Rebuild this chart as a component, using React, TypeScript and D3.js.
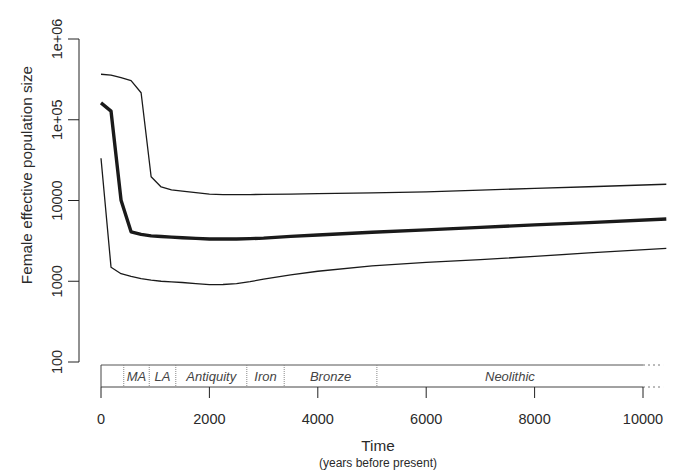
import React from "react";
import * as d3 from "d3";

// years before present
const years = [0, 185, 370, 555, 740, 925, 1110, 1300, 1500, 1750, 2000, 2250, 2500, 2750, 3000, 3500, 4000, 5000, 6000, 7000, 8000, 9000, 10430];
const median = [162000, 128000, 10100, 4100, 3800, 3650, 3580, 3520, 3460, 3400, 3340, 3330, 3330, 3370, 3420, 3600, 3740, 4050, 4330, 4650, 4990, 5320, 5900];
const upper = [366000, 358000, 333000, 305000, 216000, 19700, 14700, 13500, 13100, 12500, 12000, 11850, 11800, 11850, 11900, 12000, 12200, 12450, 12800, 13450, 14100, 14800, 15900];
const lower = [33300, 1490, 1240, 1150, 1080, 1030, 1000, 985, 965, 935, 910, 912, 935, 990, 1060, 1200, 1330, 1550, 1710, 1850, 2030, 2240, 2560];

const xTicks = [0, 2000, 4000, 6000, 8000, 10000];
const yTicks = [100, 1000, 10000, 100000, 1000000];
const yTickLabels = ["100", "1000", "10000", "1e+05", "1e+06"];

const epochBounds = [0, 420, 890, 1380, 2690, 3380, 5090, 10000];
const epochNames = ["", "MA", "LA", "Antiquity", "Iron", "Bronze", "Neolithic"];

const W = 681;
const H = 471;

const App = () => {
  const x = d3.scaleLinear().domain([0, 10000]).range([101, 643]);
  const y = d3.scaleLog().domain([100, 1000000]).range([362, 39]);

  const line = d3
    .line<number>()
    .x((d, i) => x(years[i]))
    .y((d) => y(d));

  const font = "'Liberation Sans', Arial, Helvetica, sans-serif";
  const boxTop = 365;
  const boxBottom = 387;
  const xEnd = x(10370);

  return (
    <svg
      width={W}
      height={H}
      style={{ position: "absolute", left: 0, top: 0, background: "#fff" }}
      fontFamily={font}
    >
      {/* y axis */}
      <line x1={79} x2={79} y1={y(1000000)} y2={y(100)} stroke="#222" strokeWidth={1} />
      {yTicks.map((t, i) => (
        <g key={t}>
          <line x1={68} x2={79} y1={y(t)} y2={y(t)} stroke="#222" />
          <text
            transform={`translate(62,${y(t)}) rotate(-90)`}
            textAnchor="middle"
            fontSize={14.5}
            fill="#2a2a2a"
          >
            {yTickLabels[i]}
          </text>
        </g>
      ))}
      <text
        transform="translate(32,175) rotate(-90)"
        textAnchor="middle"
        fontSize={15.3}
        fill="#2a2a2a"
      >
        Female effective population size
      </text>

      {/* epoch band */}
      <line x1={x(0)} x2={x(10000)} y1={boxTop} y2={boxTop} stroke="#555" />
      <line x1={x(10000)} x2={xEnd} y1={boxTop} y2={boxTop} stroke="#777" strokeDasharray="2,3" />
      <line x1={x(0)} x2={x(0)} y1={boxTop} y2={boxBottom} stroke="#444" />
      {epochBounds.slice(1, -1).map((b) => (
        <line
          key={b}
          x1={x(b)}
          x2={x(b)}
          y1={boxTop}
          y2={boxBottom}
          stroke="#888"
          strokeDasharray="1,1"
        />
      ))}
      {epochNames.map((n, i) =>
        n ? (
          <text
            key={n}
            x={(x(epochBounds[i]) + x(epochBounds[i + 1])) / 2}
            y={boxTop + 16}
            textAnchor="middle"
            fontSize={13}
            fontStyle="italic"
            fill="#444"
          >
            {n}
          </text>
        ) : null
      )}

      {/* x axis */}
      <line x1={x(0)} x2={x(10000)} y1={boxBottom} y2={boxBottom} stroke="#444" />
      <line x1={x(10000)} x2={xEnd} y1={boxBottom} y2={boxBottom} stroke="#777" strokeDasharray="2,3" />
      {xTicks.map((t) => (
        <g key={t}>
          <line x1={x(t)} x2={x(t)} y1={boxBottom} y2={398} stroke="#222" />
          <text x={x(t)} y={424} textAnchor="middle" fontSize={14.5} fill="#2a2a2a">
            {t}
          </text>
        </g>
      ))}
      <text x={378} y={451} textAnchor="middle" fontSize={15.3} fill="#2a2a2a">
        Time
      </text>
      <text x={378} y={467} textAnchor="middle" fontSize={12} fill="#2a2a2a">
        (years before present)
      </text>

      {/* series */}
      <path d={line(upper) || ""} fill="none" stroke="#1a1a1a" strokeWidth={1.3} strokeLinejoin="round" />
      <path d={line(lower) || ""} fill="none" stroke="#1a1a1a" strokeWidth={1.3} strokeLinejoin="round" />
      <path d={line(median) || ""} fill="none" stroke="#1a1a1a" strokeWidth={3.4} strokeLinejoin="round" />
    </svg>
  );
};

export default App;
